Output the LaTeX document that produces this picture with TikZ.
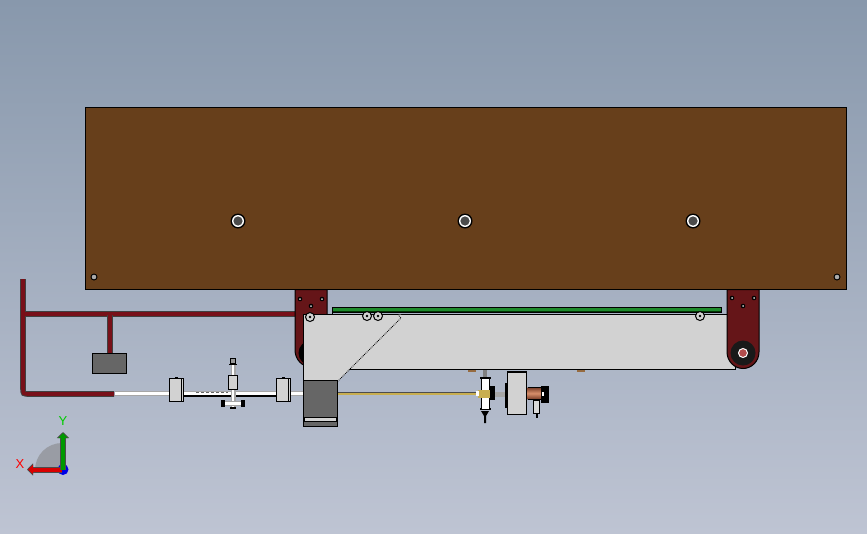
\documentclass[tikz,border=0pt]{standalone}
\usepackage{fontspec}
\setmainfont{Liberation Sans}
\usetikzlibrary{arrows.meta}
\definecolor{panelbrown}{HTML}{673F1B}
\definecolor{pipered}{HTML}{781019}
\definecolor{bracketred}{HTML}{651518}
\definecolor{plategray}{HTML}{D2D2D2}
\definecolor{blockgray}{HTML}{666666}
\definecolor{beltgreen}{HTML}{1E8A2C}
\definecolor{rodgold}{HTML}{C8AE50}
\definecolor{coppermid}{HTML}{D8906C}
\definecolor{copperdark}{HTML}{7A3E28}
\definecolor{triadgray}{HTML}{999CA4}
\tikzset{
	outlined/.style = {draw = black, line width = 1 pt},
	pipe/.style = {draw = pipered, line width = 3.6 pt},
	piperim/.style = {draw = black!75, line width = 5.6 pt},
	rod/.style = {draw = black!35, line width = 5 pt, postaction = {draw = white, line width = 2.6 pt}},
	bolt/.style = {circle, draw = black, fill = plategray, line width = 1 pt, inner sep = 0 pt, minimum size = 9 pt},
	pinhole/.style = {fill = black, circle, inner sep = 0 pt, minimum size = 7 pt, path picture = {\fill [black!10!gray!60!white] (path picture bounding box.center) circle (2.3 pt);}}
}
\begin{document}
\begin{tikzpicture}[x = 1 pt, y = -1 pt]
	\useasboundingbox (0, 0) rectangle (867, 533);
	\shade [top color = {rgb,255:red,136;green,152;blue,172}, bottom color = {rgb,255:red,190;green,196;blue,211}] (0, 0) rectangle (867, 533);
	% panel
	\draw [outlined, fill = panelbrown] (85.5, 107) rectangle (846.5, 289.5);
	\foreach \x in {238, 465, 693} {
		\fill [black] (\x, 221) circle (7.5 pt);
		\fill [white] (\x, 221) circle (6 pt);
		\fill [black!70] (\x, 221) circle (4.6 pt);
	}
	\node [pinhole] (holeleft) at (94, 277) {};
	\node [pinhole] (holeright) at (837, 277) {};
	% pipes
	\draw [piperim] (23, 279) -- (23, 388) .. controls (23, 394) .. (30, 394) -- (114, 394);
	\draw [pipe] (23, 279) -- (23, 388) .. controls (23, 394) .. (30, 394) -- (114, 394);
	\draw [piperim] (25, 314) -- (296, 314);
	\draw [pipe] (25, 314) -- (296, 314);
	\draw [piperim] (110, 315) -- (110, 353);
	\draw [pipe] (110, 315) -- (110, 353);
	\draw [outlined, fill = blockgray] (92.5, 353.5) rectangle (126.5, 373.5);
	% left rod
	\draw [rod] (114.5, 393.5) -- (303, 393.5);
	\draw [black, line width = 1.5 pt] (183, 396) -- (278, 396);
	\draw [black!60, densely dashed, line width = 0.6 pt] (196, 392) -- (228, 392);
	\draw [rod] (233, 365) -- (233, 408);
	\draw [rod] (223, 403.5) -- (244, 403.5);
	\fill [black] (221, 400) rectangle (224.5, 407);
	\fill [black] (241, 400) rectangle (244.5, 407);
	\fill [black] (230, 407) rectangle (236, 409);
	\draw [outlined, fill = plategray] (228.5, 375.5) rectangle (237.5, 389.5);
	\draw [black, line width = 1 pt, fill = black!40] (230.5, 358) rectangle (235.5, 363);
	\draw [black, line width = 1.5 pt] (229, 364.5) -- (237, 364.5);
	\foreach \x in {169.5, 276.5} {
		\draw [outlined, fill = plategray] (\x, 378.5) rectangle ++(14, 23);
		\draw [black, line width = 0.8 pt] (\x + 11.5, 378.5) -- ++(0, 23);
		\fill [black] (\x + 5, 377) rectangle ++(3, 1.5);
	}
	% brackets
	\draw [outlined, fill = bracketred] (295, 289.5) -- (327, 289.5) -- (327, 350) arc (0 : 180 : 16 and 17) -- cycle;
	\fill [black] (311, 353) circle (12.5 pt);
	\draw [outlined, fill = plategray] (340, 314.5) rectangle (735, 369);
	\draw [black, line width = 1 pt, fill = beltgreen] (332, 307.5) rectangle (721, 312.5);
	\fill [black!60!green!50!black] (332, 310.5) rectangle (721, 312);
	\draw [black, line width = 1 pt] (332, 314) -- (332, 308);
	\fill [orange!45!black!75] (468, 369.5) rectangle (476, 372);
	\fill [orange!45!black!75] (577, 369.5) rectangle (585, 372);
	\draw [outlined, fill = bracketred] (727, 289.5) -- (759, 289.5) -- (759, 352) arc (0 : 180 : 16 and 16.5) -- cycle;
	\fill [black!90] (743, 353) circle (12.5 pt);
	\draw [white, line width = 1 pt, fill = red!40!gray] (743, 353) circle (4.5 pt);
	\foreach \x / \y in {300 / 299, 322 / 299, 311 / 306, 732 / 298, 754 / 298, 743 / 306} {
		\fill [black] (\x, \y) circle (2.3 pt);
		\fill [plategray] (\x, \y) circle (1 pt);
	}
	% hanger plate
	\fill [plategray] (303.5, 314.5) -- (401, 314.5) -- (401, 318) -- (338, 381) -- (303.5, 381) -- cycle;
	\draw [outlined] (338, 381) -- (303.5, 381) -- (303.5, 314.5) -- (398, 314.5);
	\draw [black, densely dotted, line width = 0.8 pt] (398, 314.5) -- (401, 318) -- (338, 381);
	\draw [outlined, fill = blockgray] (303.5, 380.5) rectangle (337.5, 426.5);
	\draw [black, line width = 0.8 pt, fill = plategray] (304.5, 417) rectangle (336.5, 421.5);
	\foreach \x / \y in {310 / 317, 367 / 316, 378 / 316, 700 / 316} {
		\node [bolt] at (\x, \y) {};
		\fill [black] (\x, \y) circle (1.3 pt);
	}
	% right assembly
	\draw [rodgold, line width = 2 pt] (338, 393.5) -- (480, 393.5);
	\draw [black!70, line width = 0.5 pt] (338, 392.2) -- (480, 392.2);
	\draw [black!50, line width = 3.5 pt] (485, 370) -- (485, 380);
	\draw [black!35, line width = 5 pt] (489, 394) -- (507, 394);
	\foreach \y in {378, 409} {
		\fill [black] (479.5, \y - 1.5) rectangle (490.5, \y + 1);
	}
	\draw [black, line width = 1 pt, fill = white] (481, 378) rectangle (489, 409);
	\fill [black] (481, 411) -- (489, 411) -- (486, 416) -- (486, 423) -- (484, 423) -- (484, 416) -- cycle;
	\fill [rodgold] (478, 390) rectangle (490, 397.5);
	\fill [black] (490, 386) rectangle (495, 400);
	\fill [white] (475.5, 391) rectangle (478.5, 396);
	\draw [outlined, fill = plategray] (507.5, 371) rectangle (526.5, 414.5);
	\draw [black, line width = 1.2 pt] (507.5, 372.5) -- (526.5, 372.5);
	\fill [black] (505, 383) rectangle (507.5, 408);
	\shade [top color = copperdark, bottom color = copperdark, middle color = coppermid] (527.5, 387.5) rectangle (541, 399);
	\draw [black, line width = 0.8 pt] (527.5, 387) -- (541, 387) (527.5, 399.5) -- (541, 399.5);
	\fill [black] (541, 386) rectangle (548.5, 403);
	\fill [white] (542, 392) rectangle (544, 396);
	\draw [black, line width = 0.8 pt, fill = black!15] (533.5, 400) rectangle (539, 413);
	\fill [black] (535.5, 413) rectangle (538, 418);
	% triad
	\fill [triadgray] (62, 470) -- (35, 470) arc (180 : 270 : 27) -- cycle;
	\fill [blue!90!black] (63, 469.5) circle (5.5 pt);
	\draw [black!70, line width = 6 pt, -{Triangle[length=6pt, width=12pt]}] (62, 469.5) -- (27, 469.5);
	\draw [red!85!black, line width = 4 pt, -{Triangle[length=5pt, width=9pt]}] (62, 469.5) -- (28, 469.5);
	\draw [black!70, line width = 6 pt, -{Triangle[length=6pt, width=12pt]}] (63, 470) -- (63, 432);
	\draw [green!60!black, line width = 4 pt, -{Triangle[length=5pt, width=9pt]}] (63, 470) -- (63, 433);
	\node [red, font = \fontsize{13}{13}\selectfont, inner sep = 0 pt] (labelx) at (20, 464) {X};
	\node [green!80!black, font = \fontsize{13}{13}\selectfont, inner sep = 0 pt] (labely) at (63, 421) {Y};
\end{tikzpicture}
\end{document}
